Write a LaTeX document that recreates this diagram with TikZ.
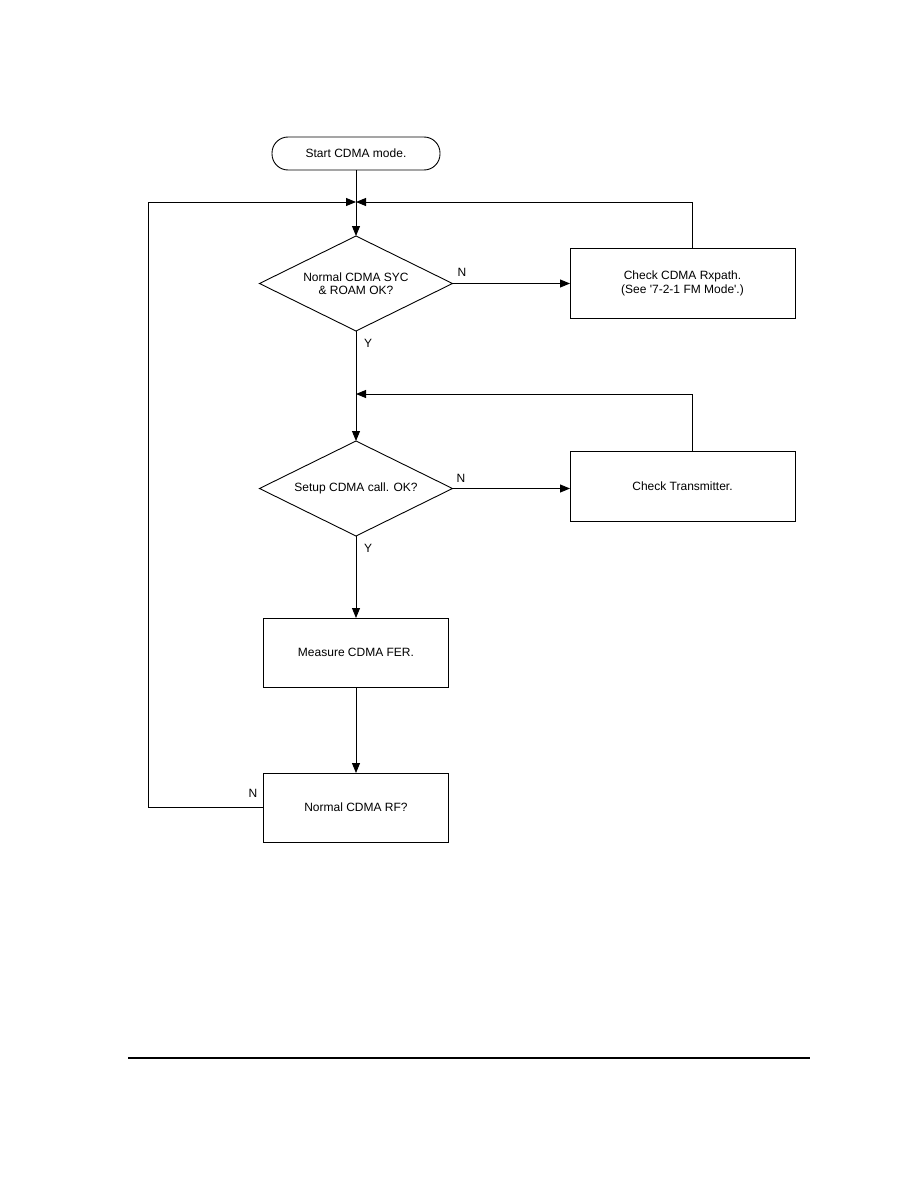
\documentclass[tikz,border=0pt]{standalone}
\usepackage{fontspec}
\setmainfont{Liberation Sans}
\usetikzlibrary{shapes.geometric,arrows.meta}
\begin{document}
\begin{tikzpicture}[x=1pt,y=-1pt,
  every node/.style={font=\fontsize{12}{13.5}\selectfont, outer sep=0pt},
  term/.style={draw, line width=0.9pt, rounded corners=16pt, minimum width=168pt, minimum height=33pt, inner sep=0pt},
  proc/.style={draw, line width=0.9pt, minimum width=225pt, minimum height=70pt, inner sep=0pt, align=center},
  sproc/.style={draw, line width=0.9pt, minimum width=185pt, minimum height=69pt, inner sep=0pt, align=center},
  dec/.style={draw, diamond, line width=0.9pt, minimum width=193pt, minimum height=95pt, inner sep=0pt, aspect=2.03, align=center},
  line/.style={line width=0.9pt},
  arr/.style={line width=0.9pt, -{Triangle[length=10pt,width=8pt]}},
  lbl/.style={inner sep=0pt}
]
\useasboundingbox (0,0) rectangle (918,1188);

\node[term] (start) at (356,153.5) {Start CDMA mode.};
\coordinate (j) at (356,202);
\node[dec] (d1) at (356,283.5) {Normal CDMA SYC\\\& ROAM OK?};
\node[proc] (rx) at (682.5,283.5) {Check CDMA Rxpath.\\(See \textquotesingle 7-2-1 FM Mode\textquotesingle.)};
\coordinate (j2) at (356,394);
\node[dec] (d2) at (356,488.5) {Setup CDMA call. OK?};
\node[proc] (tx) at (682.5,486) {Check Transmitter.};
\node[sproc] (fer) at (356,652.5) {Measure CDMA FER.};
\node[sproc] (rf) at (356,807.5) {Normal CDMA RF?};
\coordinate (lft) at (148,807.5);
\coordinate (rxt) at (692,202);
\coordinate (txt) at (692,394);

\draw[line] (start) -- (j);
\draw[arr] (j) -- (d1.north);
\draw[arr] (d1.east) -- (d1.east -| rx.west);
\draw[arr] (rx.north -| rxt) -- (rxt) -- (j);
\draw[line] (d1.south) -- (j2);
\draw[arr] (j2) -- (d2.north);
\draw[arr] (tx.north -| txt) -- (txt) -- (j2);
\draw[arr] (d2.east) -- (d2.east -| tx.west);
\draw[arr] (d2.south) -- (fer.north);
\draw[arr] (fer.south) -- (rf.north);
\draw[arr] (rf.west) -- (lft) |- (j);

\node[lbl] (n1) at (462,272) {N};
\node[lbl] (y1) at (368,343) {Y};
\node[lbl] (n2) at (461,478) {N};
\node[lbl] (y2) at (368,548) {Y};
\node[lbl] (n3) at (253,793) {N};

\coordinate (ruleL) at (128,1058);
\coordinate (ruleR) at (810,1058);
\draw[line width=2pt] (ruleL) -- (ruleR);
\end{tikzpicture}
\end{document}
